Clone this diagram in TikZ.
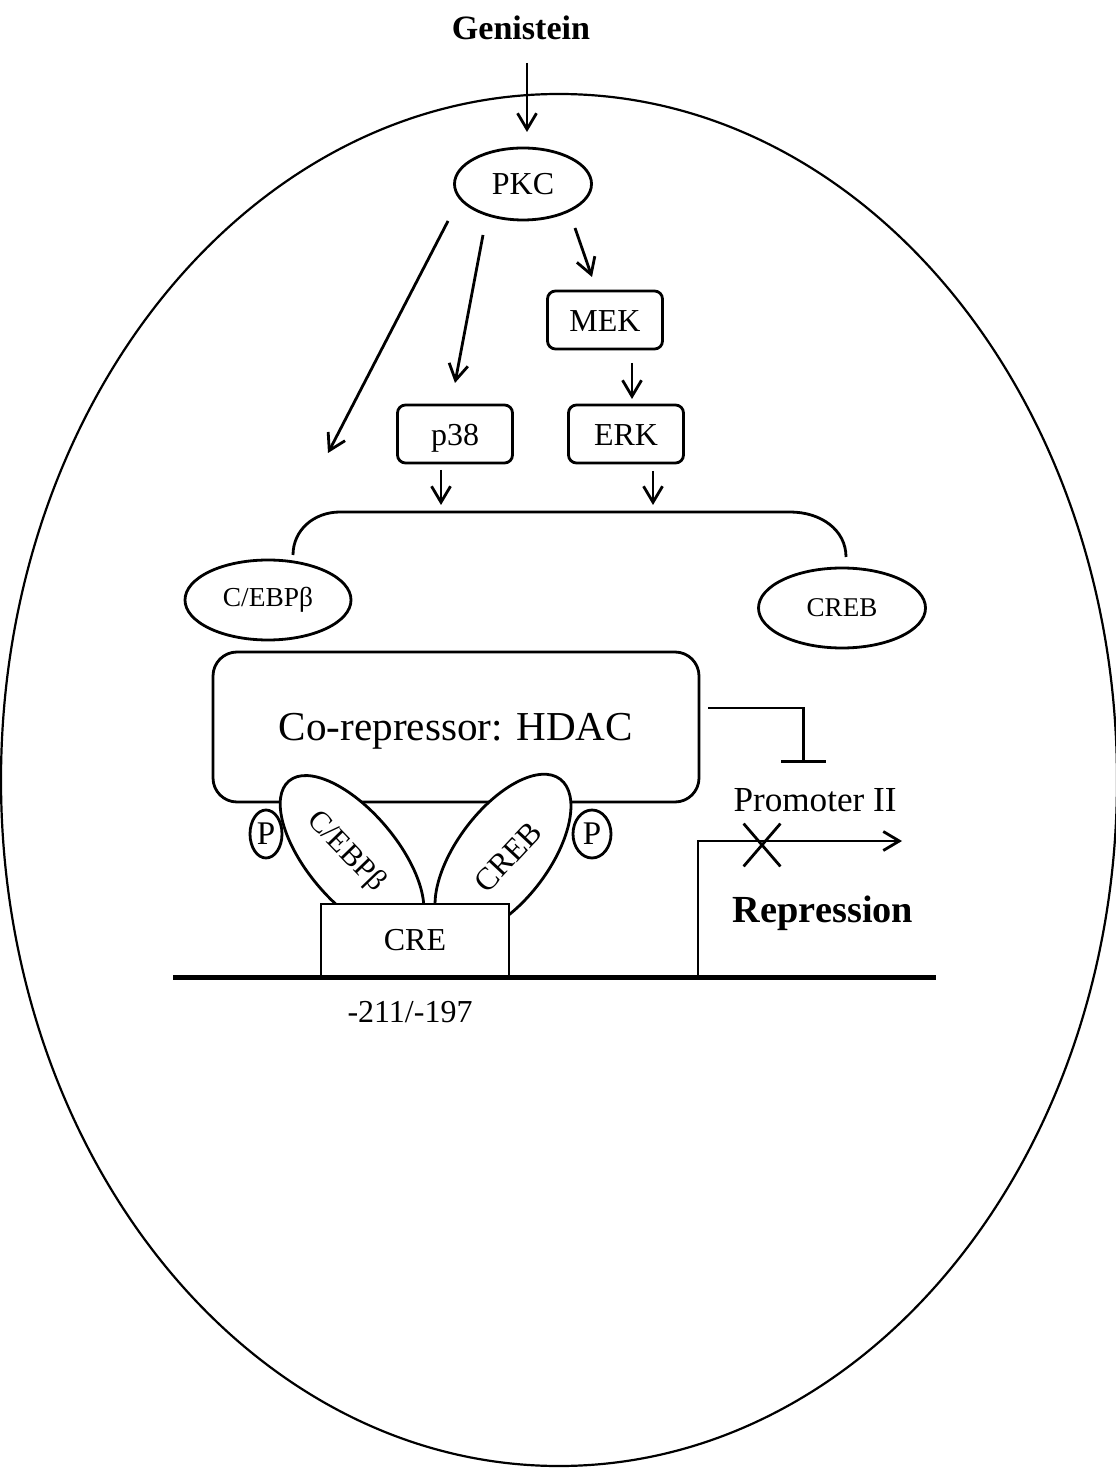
\documentclass[tikz,border=0pt]{standalone}
\usepackage{fontspec}
\setmainfont{Liberation Serif}
\usetikzlibrary{shapes.geometric,shapes.misc,arrows.meta}

\begin{document}
\begin{tikzpicture}[x=0.1mm,y=-0.1mm,line width=0.28mm,
	>={Straight Barb[length=1.6mm,width=1.9mm]},
	oval/.style={draw,ellipse,inner sep=0pt},
	kinase/.style={draw,rounded corners=0.8mm,minimum width=11.5mm,minimum height=5.8mm,inner sep=0pt,text height=1.45ex,text depth=0pt},
	fs/.style={font=\fontsize{#1}{#1}\selectfont}]
	\useasboundingbox (0,0) rectangle (1115,1469);
	\draw[line width=0.22mm] (559,780) ellipse [x radius=55.8mm,y radius=68.6mm];

	\node[font=\bfseries\fontsize{9.7}{12}\selectfont] (genistein) at (521,28) {Genistein};
	\node[oval,fs=9.1,minimum width=13.7mm,minimum height=7.2mm] (pkc) at (523,184) {PKC};
	\node[kinase,fs=9.1] (mek) at (605,320) {MEK};
	\node[kinase,fs=9.1] (erk) at (626,434) {ERK};
	\node[kinase,fs=9.1] (p38) at (455,434) {p38};
	\node[oval,fs=7.8,minimum width=16.6mm,minimum height=8mm] (cebp) at (268,600) {C/EBPβ};
	\node[oval,fs=7.7,minimum width=16.7mm,minimum height=8mm] (creb) at (842,608) {CREB};

	\draw[->] (genistein) ++(6,35) -- +(0,69);
	\draw[->] (pkc) ++(-75,37) -- +(-120,232);
	\draw[->] (pkc) ++(-40,51) -- +(-28,148);
	\draw[->] (pkc) ++(52,44) -- +(17,49);
	\draw[->] (mek) ++(27,43) -- +(0,36);
	\draw[->] (p38) ++(-14,36) -- +(0,35);
	\draw[->] (erk) ++(27,37) -- +(0,34);
	\draw (293,555) .. controls (293,530) and (314,512) .. (340,512) -- (790,512) .. controls (821,512) and (846,530) .. (846,557);

	\node[draw,rounded corners=2.4mm,minimum width=48.6mm,minimum height=15mm,fs=11.7,text depth=0pt] (hdac) at (456,727) {Co-repressor: HDAC};
	\draw[fill=white,rotate around={-50:(352,856)}] (352,856) ellipse [x radius=9.8mm,y radius=4.5mm];
	\node[fs=8.6,rotate=-46] (cebpB) at (346,852) {C/EBPβ};
	\draw[fill=white,rotate around={53:(503,855)}] (503,855) ellipse [x radius=9.5mm,y radius=4.6mm];
	\node[fs=9,rotate=47] (crebB) at (508,857) {CREB};
	\node[oval,fill=white,fs=9.4,minimum width=3.2mm,minimum height=4.8mm] (pL) at (266,834) {P};
	\node[oval,fill=white,fs=9.4,minimum width=3.8mm,minimum height=4.8mm] (pR) at (592,834) {P};
	\node[draw,fill=white,minimum width=18.8mm,minimum height=7.3mm,fs=9.1] (cre) at (415,940.5) {CRE};

	\draw[line width=0.5mm] (173,977) -- (936,977);
	\coordinate (tss) at (698,977);
	\draw[->] (tss) |- (902,841);
	\draw[-{Bar[width=4.5mm]}] (hdac.east) ++(8,-19) -| +(95,55);
	\node[fs=10] (prom) at (815,800) {Promoter II};
	\node[draw,cross out,minimum width=3.4mm,minimum height=4mm,inner sep=0pt] (block) at (762,845) {};
	\node[font=\bfseries\fontsize{10.9}{13}\selectfont] (repr) at (823,913) {Repression};
	\node[fs=9.1] (site) at (410,1012) {-211/-197};
\end{tikzpicture}
\end{document}
